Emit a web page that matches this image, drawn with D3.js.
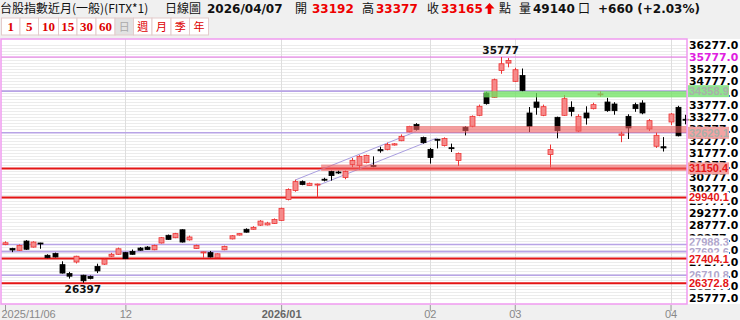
<!DOCTYPE html>
<html>
<head>
<meta charset="utf-8">
<script src="https://cdn.jsdelivr.net/npm/d3@7"></script>
<style>
  body { margin: 0; background: #f0f0f0; }
  svg { display: block; }
</style>
</head>
<body>
<svg id="chart" width="740" height="320"></svg>
<script>
// trading days, 2025/11/06 .. 2026/04/07
const dates = [
  '2025/11/06','2025/11/07','2025/11/10','2025/11/11','2025/11/12','2025/11/13','2025/11/14','2025/11/17','2025/11/18','2025/11/19',
  '2025/11/20','2025/11/21','2025/11/24','2025/11/25','2025/11/26','2025/11/27','2025/11/28',
  '2025/12/01','2025/12/02','2025/12/03','2025/12/04','2025/12/05','2025/12/08','2025/12/09','2025/12/10','2025/12/11','2025/12/12',
  '2025/12/15','2025/12/16','2025/12/17','2025/12/18','2025/12/19','2025/12/22','2025/12/23','2025/12/24','2025/12/26','2025/12/29',
  '2025/12/30','2025/12/31',
  '2026/01/02','2026/01/05','2026/01/06','2026/01/07','2026/01/08','2026/01/09','2026/01/12','2026/01/13','2026/01/14','2026/01/15',
  '2026/01/16','2026/01/19','2026/01/20','2026/01/21','2026/01/22','2026/01/23','2026/01/26','2026/01/27','2026/01/28','2026/01/29',
  '2026/01/30',
  '2026/02/02','2026/02/03','2026/02/04','2026/02/05','2026/02/06','2026/02/09','2026/02/10','2026/02/11','2026/02/23','2026/02/24',
  '2026/02/25','2026/02/26',
  '2026/03/02','2026/03/03','2026/03/04','2026/03/05','2026/03/06','2026/03/09','2026/03/10','2026/03/11','2026/03/12','2026/03/13',
  '2026/03/16','2026/03/17','2026/03/18','2026/03/19','2026/03/20','2026/03/23','2026/03/24','2026/03/25','2026/03/26','2026/03/27',
  '2026/03/30','2026/03/31',
  '2026/04/01','2026/04/02','2026/04/07'
];

const opens = [
  27990,27820,27746,28130,27880,28050,27540,27610,27150,26780,27260,26710,26660,27080,27170,27500,27580,
  27650,27700,27840,27880,27770,28050,28370,28270,28600,28180,27820,27650,27650,27440,27770,28220,28380,28620,28620,28790,28800,28860,
  28990,29860,30230,30600,30440,30470,30700,31020,31000,30770,31310,31270,31390,31270,31930,31940,32120,32300,32680,32970,32430,
  31940,32360,32100,32010,31480,32857,32900,33355,34280,34102,35222,35526,
  34766,35010,33452,33908,33355,31723,33272,33355,33687,32700,33452,33632,34230,33908,33825,32525,33313,33798,33867,32788,32069,32050,
  33078,33687,33192
];
const highs = [
  28120,27850,27990,28170,28120,28060,27580,27650,27290,26850,27520,26730,26700,27190,27400,27640,27860,
  27680,27780,27880,27920,27980,28300,28400,28470,28620,28360,27980,27690,27720,27620,27940,28380,28460,28660,28750,29000,28930,29070,
  29520,30320,30680,30650,30560,30520,30760,31060,31060,31060,31580,31700,31720,31650,32050,32220,32200,32560,32920,33030,32470,
  32000,32380,32440,32180,31810,32900,33350,33800,34330,34880,35777,35740,
  35330,35300,33700,34280,33800,32140,33300,34200,33936,33400,33730,33880,34350,34080,33900,32680,33400,33880,33980,33200,32640,32450,
  33450,33750,33377
];
const lows = [
  27960,27670,27720,27760,27860,27810,27420,27450,26780,26570,27200,26397,26540,26800,27140,27470,27560,
  27380,27560,27730,27760,27750,28030,28180,28250,28070,28150,27800,27440,27450,27420,27750,28200,28360,28480,28600,28760,28780,28840,
  28970,29820,30180,30450,30420,29940,30610,30640,30920,30700,31200,31100,31360,31200,31800,31900,32100,32280,32650,32720,32180,
  31350,31980,32060,31830,31250,32520,32860,33320,33800,34080,35080,35350,
  34740,34350,32660,33380,33320,31180,32400,33330,33313,32660,32970,33600,34130,33500,33380,32240,32370,33500,33400,32700,32000,31850,
  32950,32480,32980
];
const closes = [
  28060,27760,27950,27790,28090,28040,27440,27470,26800,26670,27500,26480,26580,26890,27370,27580,27810,
  27400,27580,27750,27780,27950,28270,28200,28440,28090,28300,27950,27680,27470,27600,27910,28350,28440,28500,28700,28960,28880,29030,
  29490,30270,30600,30480,30530,30500,30660,30850,30960,31020,31480,31650,31690,31230,31880,32140,32170,32480,32890,32770,32220,
  31600,32330,32390,31980,31770,32719,33313,33730,33840,34835,35498,35637,
  35250,34392,32900,33687,33715,31930,32719,34046,33520,33313,33245,33798,34245,33549,33549,32580,32830,33632,33452,33134,32525,32000,
  33410,32505,33165
];
const lastVolume = 49140;

const yTickValues = [25777,26277,26777,27277,27777,28277,28777,29277,29777,30277,30777,
  31277,31777,32277,32777,33277,33777,34277,34777,35277,35777,36277];
const xTickDates = ['2025/11/06','2025/12/01','2026/01/02','2026/02/02','2026/03/02','2026/04/01'];
const xTickLabels = ['2025/11/06','12','2026/01','02','03','04'];

// support / resistance levels
const levelValues = [35777, 34358.9, 32629.1, 31150.4, 29940.1, 27988.3, 27692.6, 27404.1, 26710.8, 26372.8];
const levelTypes  = ['high','lilac','lilac','red','red','lilac','lilac','red','lilac','red'];

// shaded zones
const bandLows   = [34100, 32629.1, 31040];
const bandHighs  = [34358.9, 32910, 31310];
const bandStarts = ['2026/02/23','2026/01/28','2026/01/12'];
const bandTypes  = ['green','red','red'];

// trend channel
const channelStartDates = ['2026/01/06','2026/01/09'];
const channelStartValues = [30668, 30418];
const channelEndDates = ['2026/01/29','2026/02/03'];
const channelEndValues = [32675, 32413];

const svg = d3.select('#chart');
const PLOT = { left: 1, right: 687, top: 39, bottom: 304 };

const x = d3.scalePoint().domain(dates).range([5, 684.7]);
const y = d3.scaleLinear().domain([25777, 36277]).range([297.7, 45]);

// ---------- header ----------
const header = svg.append('g');
const n = closes.length - 1;
const change = closes[n] - closes[n - 1];
const pct = change / closes[n - 1] * 100;
const hdr = [
  { t: '台股指數近月(一般)(FITX*1)', x: 0, size: 12, cjk: true },
  { t: '日線圖', x: 165, size: 12, cjk: true },
  { t: dates[n], x: 207, bold: true },
  { t: '開', x: 295, size: 12, cjk: true },
  { t: opens[n], x: 312, bold: true, color: '#e00' },
  { t: '高', x: 362, size: 12, cjk: true },
  { t: highs[n], x: 376, bold: true, color: '#e00' },
  { t: '收', x: 427, size: 12, cjk: true },
  { t: closes[n], x: 441, bold: true, color: '#e00' },
  { t: '點', x: 499, size: 12, cjk: true },
  { t: '量', x: 519, size: 12, cjk: true },
  { t: lastVolume, x: 533, bold: true },
  { t: '口', x: 578, size: 12, cjk: true },
  { t: `+${change} (+${pct.toFixed(2)}%)`, x: 598, bold: true }
];
header.selectAll('text').data(hdr).enter().append('text')
  .attr('x', d => d.x).attr('y', 13)
  .attr('font-family', d => d.cjk ? '"Noto Sans CJK TC", sans-serif' : '"DejaVu Sans", sans-serif')
  .attr('font-size', d => d.size || 12)
  .attr('font-weight', d => d.bold ? 'bold' : 'normal')
  .attr('fill', d => d.color || '#111')
  .text(d => d.t);
// red up arrow
header.append('path')
  .attr('d', 'M489.5,3 L494.5,8.5 L491.3,8.5 L491.3,14 L487.7,14 L487.7,8.5 L484.5,8.5 Z')
  .attr('fill', '#e00');

// period buttons
const btnLabels = ['1','5','10','15','30','60','日','週','月','季','年'];
const btnWidths = [18.5,18.5,20,18.5,19,19,18.5,18.5,19,18.5,19];
let bx = 1.5;
const btns = btnLabels.map((l, i) => { const b = { l, x: bx, w: btnWidths[i] }; bx += btnWidths[i]; return b; });
const bg = header.selectAll('g.btn').data(btns).enter().append('g').attr('class', 'btn');
bg.append('rect')
  .attr('x', d => d.x).attr('y', 18).attr('width', d => d.w).attr('height', 17)
  .attr('fill', d => d.l === '日' ? '#e2e2e2' : '#fff')
  .attr('stroke', '#e3cccc').attr('stroke-width', 1);
bg.append('text')
  .attr('x', d => d.x + d.w / 2).attr('y', 31)
  .attr('text-anchor', 'middle')
  .attr('font-family', d => /\d/.test(d.l) ? '"Liberation Serif", serif' : '"Noto Sans CJK TC", sans-serif')
  .attr('font-weight', d => /\d/.test(d.l) ? 'bold' : 'normal')
  .attr('font-size', d => /\d/.test(d.l) ? 13 : 11)
  .attr('fill', d => d.l === '日' ? '#aaa' : '#d00')
  .text(d => d.l);

// ---------- plot background + grid ----------
svg.append('rect').attr('x', 0).attr('y', PLOT.top).attr('width', 740).attr('height', PLOT.bottom - PLOT.top)
  .attr('fill', '#fff');

const grid = svg.append('g');
grid.selectAll('line.h').data(d3.range(25777, 36300, 125)).enter().append('line')
  .attr('x1', PLOT.left).attr('x2', PLOT.right)
  .attr('y1', d => Math.round(y(d)) + 0.5).attr('y2', d => Math.round(y(d)) + 0.5)
  .attr('stroke', '#ececec');
grid.selectAll('line.v').data(xTickDates.slice(1)).enter().append('line')
  .attr('x1', d => Math.round(x(d)) + 0.5).attr('x2', d => Math.round(x(d)) + 0.5)
  .attr('y1', PLOT.top).attr('y2', PLOT.bottom)
  .attr('stroke', '#dedede');

// ---------- level lines ----------
const levelColor = { high: '#e36be3', lilac: '#b8a4e6', red: '#e41515' };
const levelWidth = { high: 1, lilac: 1.6, red: 2 };
svg.append('g').selectAll('line').data(levelValues).enter().append('line')
  .attr('x1', PLOT.left).attr('x2', PLOT.right)
  .attr('y1', d => y(d)).attr('y2', d => y(d))
  .attr('stroke', (d, i) => levelColor[levelTypes[i]])
  .attr('stroke-width', (d, i) => levelWidth[levelTypes[i]]);

// channel
svg.append('g').selectAll('line').data(channelStartDates).enter().append('line')
  .attr('x1', d => x(d)).attr('y1', (d, i) => y(channelStartValues[i]))
  .attr('x2', (d, i) => x(channelEndDates[i])).attr('y2', (d, i) => y(channelEndValues[i]))
  .attr('stroke', '#a99ee0').attr('stroke-width', 1);

// ---------- candles ----------
const candles = dates.map((d, i) => ({ d, o: opens[i], h: highs[i], l: lows[i], c: closes[i] }));
const cg = svg.append('g').selectAll('g').data(candles).enter().append('g');
const isUp = d => d.c >= d.o;
cg.append('line')
  .attr('x1', d => Math.round(x(d.d)) + 0.5).attr('x2', d => Math.round(x(d.d)) + 0.5)
  .attr('y1', d => y(d.h)).attr('y2', d => y(d.l))
  .attr('stroke', d => isUp(d) ? '#e33' : '#000').attr('stroke-width', 1);
cg.append('rect')
  .attr('x', d => Math.round(x(d.d)) - 2)
  .attr('width', 5)
  .attr('y', d => y(Math.max(d.o, d.c)))
  .attr('height', d => Math.max(1, Math.abs(y(d.o) - y(d.c))))
  .attr('fill', d => isUp(d) ? '#f58a8a' : '#000')
  .attr('stroke', d => isUp(d) ? '#e33' : '#000')
  .attr('stroke-width', 0.8);

// ---------- bands (drawn over candles, translucent) ----------
const bandFill = { green: 'rgba(110,225,95,0.75)', red: 'rgba(238,95,95,0.6)' };
svg.append('g').selectAll('rect').data(bandStarts).enter().append('rect')
  .attr('x', d => x(d) - 2.5)
  .attr('width', d => PLOT.right - x(d) + 2.5)
  .attr('y', (d, i) => y(bandHighs[i]))
  .attr('height', (d, i) => y(bandLows[i]) - y(bandHighs[i]))
  .attr('fill', (d, i) => bandFill[bandTypes[i]]);

// high / low annotations
const hiIdx = d3.maxIndex(highs);
const loIdx = d3.minIndex(lows);
svg.append('text').attr('x', x(dates[hiIdx])).attr('y', 54)
  .attr('text-anchor', 'middle').attr('font-family', '"DejaVu Sans", sans-serif')
  .attr('font-weight', 'bold').attr('font-size', 10.5).attr('fill', '#111')
  .text(highs[hiIdx]);
svg.append('text').attr('x', x(dates[loIdx])).attr('y', 293)
  .attr('text-anchor', 'middle').attr('font-family', '"DejaVu Sans", sans-serif')
  .attr('font-weight', 'bold').attr('font-size', 10.5).attr('fill', '#111')
  .text(lows[loIdx]);

// frame
svg.append('rect').attr('x', PLOT.left).attr('y', PLOT.top)
  .attr('width', PLOT.right - PLOT.left).attr('height', PLOT.bottom - PLOT.top)
  .attr('fill', 'none').attr('stroke', '#f09af0').attr('stroke-width', 1.5);

// ---------- y axis (right) ----------
const yAxis = svg.append('g')
  .attr('transform', `translate(${PLOT.right},0)`)
  .call(d3.axisRight(y).tickValues(yTickValues).tickSize(0).tickPadding(2).tickFormat(d => d.toFixed(1)));
yAxis.select('.domain').remove();
yAxis.selectAll('text')
  .attr('font-family', '"DejaVu Sans", sans-serif').attr('font-weight', 'bold')
  .attr('font-size', 10.8).attr('fill', '#000');

// level labels on the axis (upper label nudged when two lilac lines sit close)
const labelFill = { high: '#e020e0', lilac: '#b0a6cc', red: '#e41515' };
const labelBg = levelValues.map((v, i) => {
  const b = bandLows.findIndex((lo, j) => v >= lo - 1 && v <= bandHighs[j] + 1);
  if (b < 0) return '#fff';
  return bandTypes[b] === 'green' ? '#8fe58f' : '#f4a3a3';
});
const labelY = levelValues.map((v, i) => {
  const next = levelValues[i + 1];
  if (next !== undefined && levelTypes[i] === 'lilac' && levelTypes[i + 1] === 'lilac' && y(next) - y(v) < 9) {
    return y(next) - 10;
  }
  return y(v);
});
const lv = svg.append('g').selectAll('g').data(levelValues).enter().append('g')
  .attr('transform', (d, i) => `translate(${PLOT.right + 1},${labelY[i]})`);
lv.append('rect')
  .attr('x', 0).attr('y', -6)
  .attr('width', (d, i) => levelTypes[i] === 'high' ? 52 : 41).attr('height', 12)
  .attr('fill', (d, i) => labelBg[i]);
lv.append('text')
  .attr('x', 1).attr('dy', '0.36em')
  .attr('font-family', (d, i) => levelTypes[i] === 'high' ? '"DejaVu Sans", sans-serif' : '"Liberation Sans", sans-serif')
  .attr('font-weight', 'bold')
  .attr('font-size', (d, i) => levelTypes[i] === 'high' ? 10.8 : 11)
  .attr('fill', (d, i) => (labelBg[i] !== '#fff' && levelTypes[i] === 'lilac') ? '#a9b0a9' : labelFill[levelTypes[i]])
  .text(d => d.toFixed(1));

// ---------- x axis ----------
const xAxis = svg.append('g')
  .attr('transform', `translate(0,${PLOT.bottom + 1})`)
  .call(d3.axisBottom(x).tickValues(xTickDates).tickSize(6).tickPadding(0)
    .tickFormat((d, i) => xTickLabels[i]));
xAxis.select('.domain').remove();
xAxis.selectAll('line').attr('stroke', '#999');
xAxis.selectAll('text')
  .attr('y', 5)
  .attr('font-family', '"Liberation Sans", sans-serif').attr('font-size', 11)
  .attr('fill', '#888')
  .attr('font-weight', (d, i) => i === 2 ? 'bold' : 'normal')
  .attr('text-anchor', (d, i) => i === 0 ? 'start' : 'middle')
  .attr('dx', (d, i) => i === 0 ? -4 : 0);
xAxis.selectAll('text').filter((d, i) => i === 2).attr('fill', '#666');
</script>
</body>
</html>
